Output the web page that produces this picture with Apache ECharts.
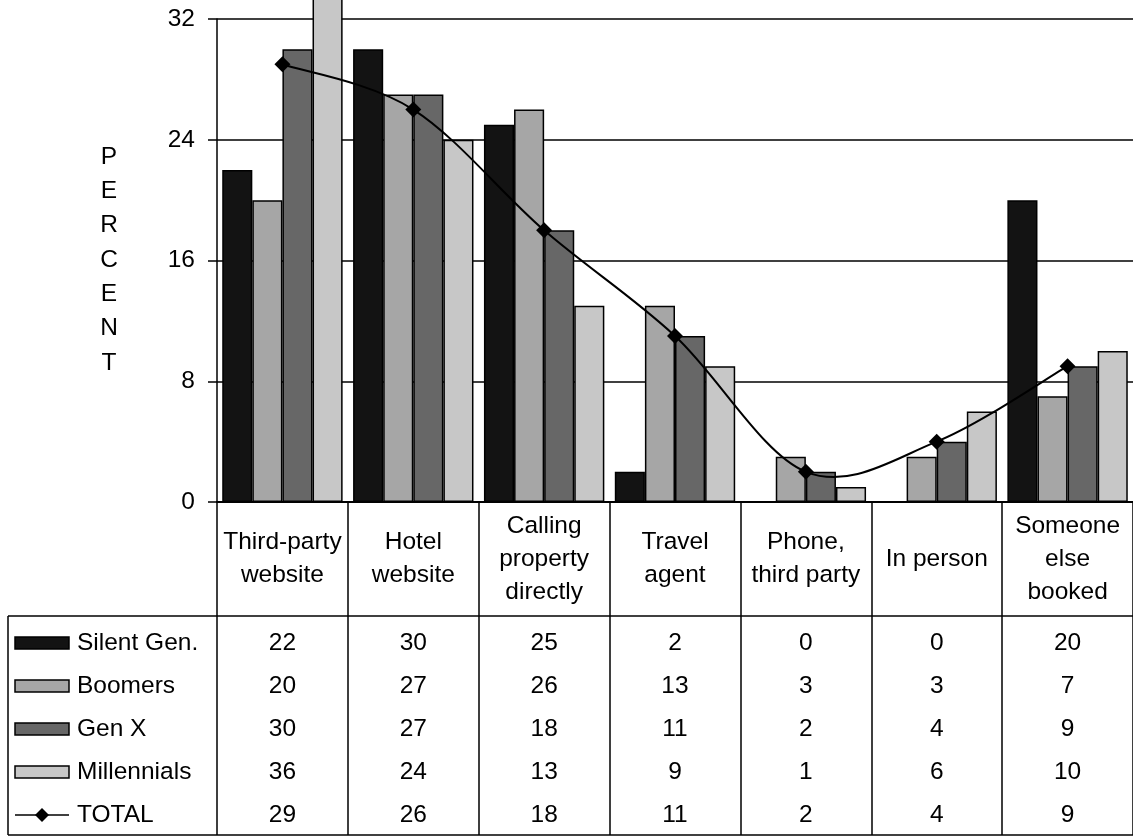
<!DOCTYPE html>
<html>
<head>
<meta charset="utf-8">
<script src="https://cdn.jsdelivr.net/npm/echarts@6/dist/echarts.min.js"></script>
<style>
  html, body { margin: 0; padding: 0; background: #fff; }
  #chart { width: 1133px; height: 836px; }
</style>
</head>
<body>
<div id="chart"></div>
<script>
// Booking channel by generation (percent)
const categories = ['Third-party\nwebsite', 'Hotel\nwebsite', 'Calling\nproperty\ndirectly', 'Travel\nagent', 'Phone,\nthird party', 'In person', 'Someone\nelse\nbooked'];
const silentGen   = [22, 30, 25, 2, 0, 0, 20];
const boomers     = [20, 27, 26, 13, 3, 3, 7];
const genX        = [30, 27, 18, 11, 2, 4, 9];
const millennials = [36, 24, 13, 9, 1, 6, 10];
const total       = [29, 26, 18, 11, 2, 4, 9];
const yTicks = { min: 0, max: 32, interval: 8 };

const FONT = '"Liberation Sans", Arial, sans-serif';
const FS = 24.5;

const barSeries = [
  { name: 'Silent Gen.', data: silentGen, color: '#131313' },
  { name: 'Boomers', data: boomers, color: '#a6a6a6' },
  { name: 'Gen X', data: genX, color: '#676767' },
  { name: 'Millennials', data: millennials, color: '#c7c7c7' }
];

const chart = echarts.init(document.getElementById('chart'), null, { renderer: 'canvas' });

const series = barSeries.map(s => ({
  name: s.name,
  type: 'bar',
  data: s.data,
  barGap: 0,
  barCategoryGap: '8%',
  clip: false,
  itemStyle: { color: s.color, borderColor: '#000', borderWidth: 1.5 },
  emphasis: { disabled: true }
}));

// TOTAL curve: Catmull-Rom style cubic segments through the mapped points
series.push({
  name: 'TOTAL curve',
  type: 'custom',
  data: total.map((v, i) => [i, v]),
  z: 4,
  renderItem: function (params, api) {
    if (params.dataIndex !== 0) return null;
    const pts = total.map((v, i) => api.coord([i, v]));
    const n = pts.length;
    let d = 'M' + pts[0][0] + ' ' + pts[0][1];
    for (let i = 0; i < n - 1; i++) {
      const p0 = pts[Math.max(i - 1, 0)];
      const p1 = pts[i];
      const p2 = pts[i + 1];
      const p3 = pts[Math.min(i + 2, n - 1)];
      const c1x = p1[0] + (p2[0] - p0[0]) / 6;
      const c1y = p1[1] + (p2[1] - p0[1]) / 6;
      const c2x = p2[0] - (p3[0] - p1[0]) / 6;
      const c2y = p2[1] - (p3[1] - p1[1]) / 6;
      d += ' C' + c1x + ' ' + c1y + ' ' + c2x + ' ' + c2y + ' ' + p2[0] + ' ' + p2[1];
    }
    return {
      type: 'path',
      shape: { pathData: d },
      style: { stroke: '#000', fill: 'none', lineWidth: 2 }
    };
  },
  emphasis: { disabled: true },
  silent: true
});

// TOTAL markers
series.push({
  name: 'TOTAL',
  type: 'line',
  data: total,
  symbol: 'diamond',
  symbolSize: 16,
  showAllSymbol: true,
  z: 5,
  itemStyle: { color: '#000' },
  lineStyle: { opacity: 0 },
  emphasis: { disabled: true }
});

const TABLE_BOTTOM = 835;
const gridBottom = 836 - 502;

chart.setOption({
  animation: false,
  backgroundColor: '#fff',
  textStyle: { fontFamily: FONT },
  grid: { left: 217, right: 0, top: 19, bottom: gridBottom, containLabel: false },
  xAxis: {
    type: 'category',
    data: categories,
    axisLine: { show: true, lineStyle: { color: '#000', width: 2 } },
    axisTick: { show: true, length: TABLE_BOTTOM - 502, lineStyle: { color: '#000', width: 1.5 } },
    axisLabel: {
      interval: 0,
      margin: 57,
      verticalAlign: 'middle',
      lineHeight: 33,
      color: '#000',
      fontSize: FS,
      fontFamily: FONT
    },
    splitLine: { show: false }
  },
  yAxis: {
    type: 'value',
    min: yTicks.min,
    max: yTicks.max,
    interval: yTicks.interval,
    axisLine: { show: true, lineStyle: { color: '#000', width: 1.5 } },
    axisTick: { show: true, length: 9, lineStyle: { color: '#000', width: 1.5 } },
    axisLabel: { margin: 22, color: '#000', fontSize: FS, fontFamily: FONT },
    splitLine: { show: true, lineStyle: { color: '#000', width: 1.5 } }
  },
  series: series
});

// Data table under the plot: legend keys, series names and values per category
const rowY = [643, 686, 729, 772, 815];
const rows = barSeries.map(s => ({ name: s.name, data: s.data, color: s.color, kind: 'bar' }));
rows.push({ name: 'TOTAL', data: total, color: '#000', kind: 'line' });

const graphics = [];
// table frame
graphics.push({ type: 'line', shape: { x1: 8, y1: 616, x2: 1133, y2: 616 }, style: { stroke: '#000', lineWidth: 1.5 } });
graphics.push({ type: 'line', shape: { x1: 8, y1: TABLE_BOTTOM, x2: 1133, y2: TABLE_BOTTOM }, style: { stroke: '#000', lineWidth: 1.5 } });
graphics.push({ type: 'line', shape: { x1: 8, y1: 616, x2: 8, y2: TABLE_BOTTOM }, style: { stroke: '#000', lineWidth: 1.5 } });

rows.forEach((r, i) => {
  const y = rowY[i];
  if (r.kind === 'bar') {
    graphics.push({ type: 'rect', shape: { x: 15, y: y - 6, width: 54, height: 12 }, style: { fill: r.color, stroke: '#000', lineWidth: 1.5 } });
  } else {
    graphics.push({ type: 'line', shape: { x1: 15, y1: y, x2: 69, y2: y }, style: { stroke: '#000', lineWidth: 1.5 } });
    graphics.push({ type: 'polygon', shape: { points: [[42, y - 7], [49, y], [42, y + 7], [35, y]] }, style: { fill: '#000' } });
  }
  graphics.push({ type: 'text', x: 77, y: y, style: { text: r.name, font: FS + 'px ' + FONT, fill: '#000', textAlign: 'left', textVerticalAlign: 'middle' } });
  r.data.forEach((v, j) => {
    const px = chart.convertToPixel({ xAxisIndex: 0 }, j);
    graphics.push({ type: 'text', x: px, y: y, style: { text: String(v), font: FS + 'px ' + FONT, fill: '#000', textAlign: 'center', textVerticalAlign: 'middle' } });
  });
});

// vertical axis title, one letter per line
graphics.push({ type: 'text', x: 109, y: 260, style: { text: 'PERCENT'.split('').join('\n'), font: FS + 'px ' + FONT, lineHeight: 34.3, fill: '#000', textAlign: 'center', textVerticalAlign: 'middle' } });

chart.setOption({ graphic: graphics });
</script>
</body>
</html>
